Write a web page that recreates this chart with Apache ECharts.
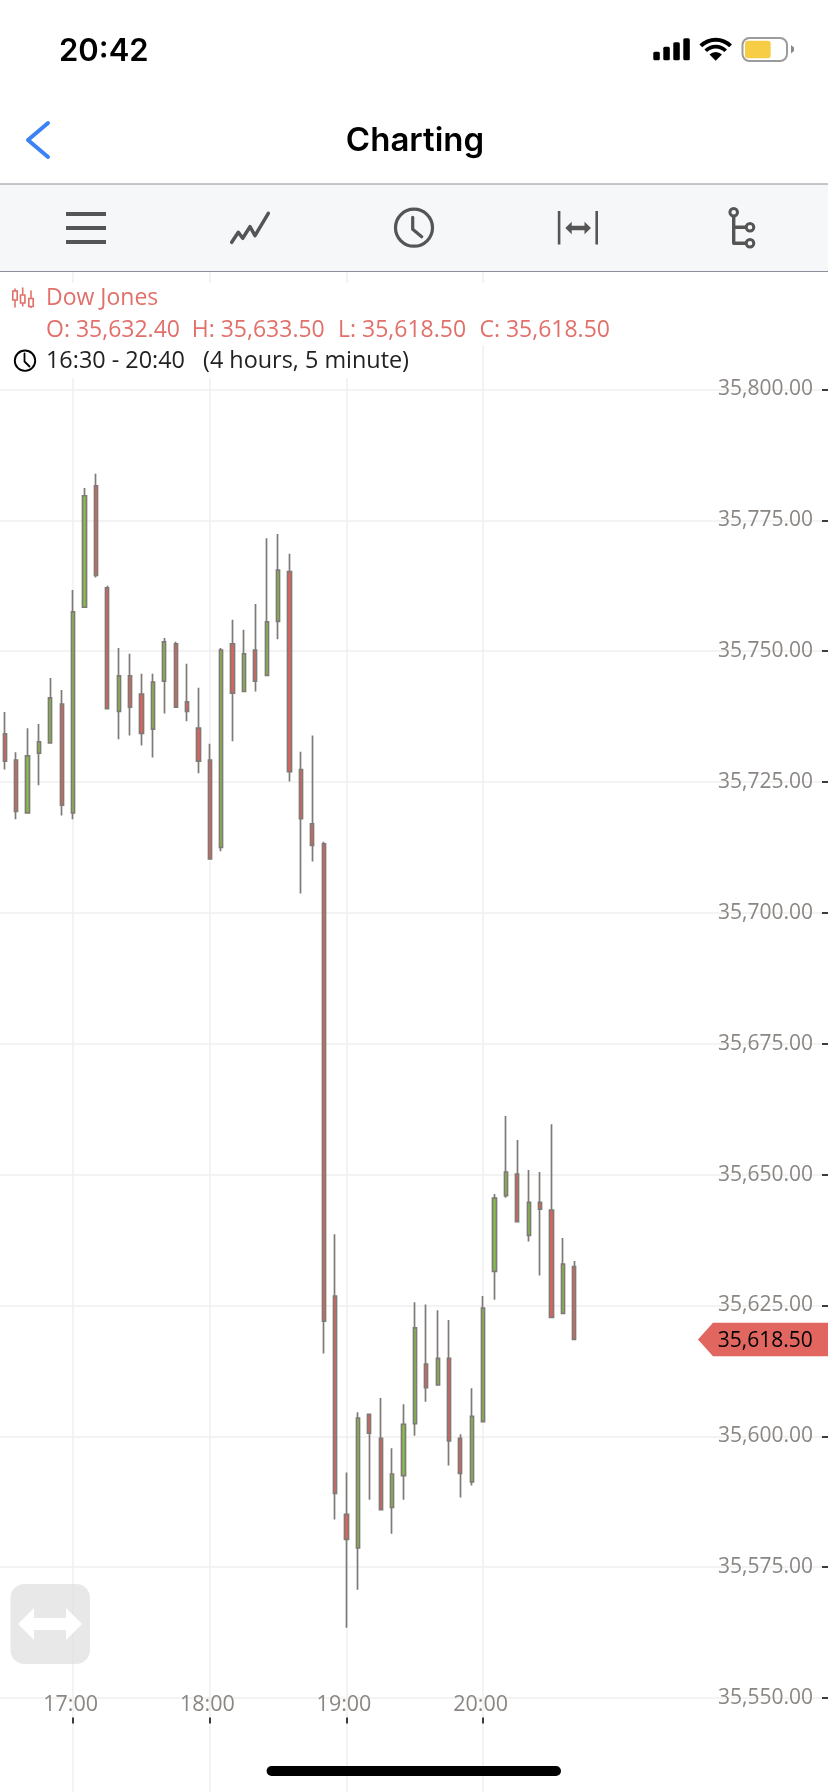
<!DOCTYPE html>
<html>
<head>
<meta charset="utf-8">
<style>html,body{margin:0;padding:0;background:#fff}#c{width:828px;height:1792px}</style>
<script src="https://cdn.jsdelivr.net/npm/echarts@6/dist/echarts.min.js"></script>
</head>
<body>
<div id="c"></div>
<script>
const times = ['16:30','16:35','16:40','16:45','16:50','16:55','17:00','17:05','17:10','17:15','17:20','17:25',
  '17:30','17:35','17:40','17:45','17:50','17:55','18:00','18:05','18:10','18:15','18:20','18:25',
  '18:30','18:35','18:40','18:45','18:50','18:55','19:00','19:05','19:10','19:15','19:20','19:25',
  '19:30','19:35','19:40','19:45','19:50','19:55','20:00','20:05','20:10','20:15','20:20','20:25',
  '20:30','20:35','20:40'];
const opens = [35734.2,35729.2,35719.1,35730.5,35732.5,35739.9,35719.1,35758.4,35781.6,35762.1,35738.5,35745.3,35741.8,35735.1,35744.3,35751.4,35740.3,35735.3,35729.2,35712.5,35751.4,35742.3,35750.2,35745.4,35755.7,35765.2,35727.4,35717,35713.2,
  35626.8,35585.1,35578.7,35604.2,35599.6,35586.4,35592.5,35602.4,35613.8,35609.8,35614.9,35599.6,35591.3,35602.8,35631.5,35646,35650.1,35638.4,35644.7,35643.2,35623.5,35632.4];
const closes = [35729,35719.4,35730,35732.7,35741.1,35720.6,35757.5,35779.7,35764.5,35739,35745.3,35739.3,35734.3,35744.1,35751.8,35739.3,35738.5,35729,35710.3,35750.2,35742,35749.5,35744.3,35755.6,35765.5,35727,35718,35712.9,35622,
  35589.1,35580.3,35603.5,35600.6,35586,35592.8,35602.3,35620.7,35609.3,35614.9,35599.1,35592.9,35603.8,35624.5,35645.5,35650.5,35641,35644.7,35643.4,35622.7,35632.9,35618.5];
const lows = [35727.4,35717.9,35719.1,35724.4,35732.5,35718.6,35717.9,35758.4,35764.1,35739,35733.2,35733.9,35732,35729.7,35738.1,35739.3,35736.6,35726.7,35710.3,35711.8,35732.8,35742.3,35742.3,35745.4,35752.3,35725.1,35703.7,35709.8,35615.8,
  35584.1,35563.4,35570.7,35587.9,35586,35581.4,35587.9,35600.1,35606.6,35609.8,35594.4,35588.3,35590.6,35602.8,35626.1,35645.6,35641,35637.2,35630.7,35622.7,35623.5,35618.5];
const highs = [35738.4,35730.7,35735.3,35736.1,35744.9,35742.6,35761.7,35781.2,35783.9,35762.5,35750.6,35749.5,35745.7,35745.7,35752.5,35751.8,35747.6,35743,35732.3,35750.6,35756,35754.1,35759,35771.6,35772.4,35768.6,35730.8,35733.9,35713.6,
  35638.6,35593.1,35604.6,35604.2,35607.3,35597.7,35606.1,35625.6,35625.2,35624.1,35622.2,35600.4,35609.2,35626.8,35646.3,35661.2,35656.6,35650.9,35650.5,35659.6,35637.9,35633.5];
const paddingSlots = 22;
const yTickMin = 35525, yTickMax = 35825, yTickStep = 25;
const lastPrice = '35,618.50';
const legendName = 'Dow Jones';
const legendOHLC = ['O: 35,632.40','H: 35,633.50','L: 35,618.50','C: 35,618.50'];
const legendTime = ['16:30 - 20:40','(4 hours, 5 minute)'];

const UP='#84c046', DOWN='#e2625b', WICK='#7f7a75', RED='#e2706a', GREY='#8a8683', ICON='#555555';
const FONT='"Open Sans"', UI='Inter';
const categories = times.concat(new Array(paddingSlots).fill(''));
const candles = times.map((t,i)=>[opens[i],closes[i],lows[i],highs[i]]);
const isHour = (i,v)=>typeof v==='string' && v.endsWith(':00');

const chart = echarts.init(document.getElementById('c'),null,{renderer:'canvas',width:828,height:1792});
chart.setOption({
  animation:false,
  backgroundColor:'#ffffff',
  grid:{left:-0.9,top:258.65,width:831.47,height:1570.2,containLabel:false,outerBoundsMode:'none'},
  xAxis:{
    type:'category',data:categories,position:'bottom',offset:-105.35,boundaryGap:true,
    axisLine:{show:false},
    axisTick:{show:true,inside:true,length:6,alignWithLabel:true,interval:isHour,lineStyle:{color:'#000',width:1.5}},
    axisLabel:{show:true,inside:true,margin:8,interval:isHour,color:GREY,fontFamily:FONT,fontSize:21.5,padding:[0,5,0,0],hideOverlap:false},
    splitLine:{show:true,alignWithLabel:true,interval:isHour,lineStyle:{color:'#efefef',width:1.5}}
  },
  yAxis:{
    type:'value',position:'right',offset:-2.57,min:yTickMin,max:yTickMax,interval:yTickStep,scale:true,
    axisLine:{show:false},
    axisTick:{show:true,inside:true,length:6,lineStyle:{color:'#000',width:1.5}},
    axisLabel:{show:true,inside:true,margin:15,showMinLabel:false,showMaxLabel:false,color:GREY,fontFamily:FONT,fontSize:21,
      formatter:v=>v.toLocaleString('en-US',{minimumFractionDigits:2,maximumFractionDigits:2})},
    splitLine:{show:true,lineStyle:{color:'#efefef',width:1.5}}
  },
  series:[{
    type:'candlestick',data:candles,barWidth:3.7,clip:false,
    itemStyle:{color:UP,color0:DOWN,borderColor:WICK,borderColor0:WICK,borderWidth:1.7}
  }]
});

function rect(x,y,w,h,fill,r,extra){return Object.assign({type:'rect',z:100,shape:{x,y,width:w,height:h,r:r||0},style:{fill}},extra||{});}
function text(t,x,y,fill,font,align){return {type:'text',z:102,x,y,style:{text:t,fill,font,textAlign:align||'left',textVerticalAlign:'middle'}};}
function poly(points,stroke,lw){return {type:'polyline',z:101,shape:{points},style:{stroke,fill:'none',lineWidth:lw,lineCap:'round',lineJoin:'round'}};}
function pgon(points,fill){return {type:'polygon',z:101,shape:{points},style:{fill}};}
function circ(cx,cy,r,stroke,lw,fill){return {type:'circle',z:101,shape:{cx,cy,r},style:{stroke,lineWidth:lw,fill:fill||'none'}};}
function sect(r0,r){return {type:'sector',z:101,shape:{cx:715.7,cy:60.7,r0,r,startAngle:-Math.PI*0.75,endAngle:-Math.PI*0.25,clockwise:true},style:{fill:'#000'}};}

const priceY = chart.convertToPixel({yAxisIndex:0},closes[closes.length-1]);
const lab21 = '21px '+FONT, lab23 = '23px '+FONT;
const els = [
  // top chrome
  rect(0,0,828,184,'#ffffff'),
  rect(0,184,828,87,'#f6f7f9'),
  rect(0,183.5,828,1,'#8b8f9a'),
  rect(0,271,828,1,'#8b8f9a'),
  text('20:42',59,51.5,'#000','600 31px '+UI),
  text('Charting',415,141,'#000','600 33px '+UI,'center'),
  poly([[48,123],[28,140],[48,157]],'#3b82f6',4),
  // signal
  rect(653.3,51.7,6.5,8.6,'#000',1.5),rect(663.3,46.7,6.5,13.6,'#000',1.5),rect(673.3,42.3,6.5,18,'#000',1.5),rect(683.3,38.3,6.5,22,'#000',1.5),
  sect(19,23),sect(12.2,16),sect(0,8.8),
  // battery
  rect(742.5,38,44.5,23,'#ffffff',7,{style:{fill:'#fff',stroke:'#9b9b9b',lineWidth:2}}),
  rect(745,40.7,25.7,17.6,'#f6cd45',3),
  pgon([[791,45],[794,47.5],[794,51],[791,53.5]],'#8a8a8a'),
  // toolbar icons
  rect(66,212,40,4,ICON),rect(66,226,40,4,ICON),rect(66,240,40,4,ICON),
  poly([[231.7,242.3],[238.3,232.3],[242.7,238.3],[250,226.7],[255,235.7],[268.3,213.3]],ICON,3.5),
  circ(414,227.7,18.5,ICON,3.2),
  poly([[412.7,217.3],[412.7,229.3],[421.7,236.7]],ICON,3.2),
  rect(557.8,211,2.6,33.5,ICON),rect(595.4,211,2.6,33.5,ICON),
  pgon([[565.3,228],[571.7,221.7],[571.7,225.7],[584.5,225.7],[584.5,221.7],[591,228],[584.5,234.3],[584.5,230.3],[571.7,230.3],[571.7,234.3]],ICON),
  poly([[733.7,212.3],[733.7,243.3],[750,243.3]],ICON,3.4),
  poly([[733.7,227.3],[750,227.3]],ICON,3.4),
  circ(733.7,212.3,3.8,ICON,3,'#f6f7f9'),circ(750,227.3,3.8,ICON,3,'#f6f7f9'),circ(750,243.3,3.8,ICON,3,'#f6f7f9'),
  // legend backing
  rect(0,283,615,62,'#ffffff'),
  rect(0,345,415,33,'#ffffff'),
  // legend candle icon
  poly([[15,289],[15,307]],RED,1.6),rect(12.8,291,4.4,9,'#fff',0,{z:101,style:{fill:'#fff',stroke:RED,lineWidth:1.6}}),
  poly([[22.7,288],[22.7,306]],RED,1.6),rect(20.5,295,4.4,8,'#fff',0,{z:101,style:{fill:'#fff',stroke:RED,lineWidth:1.6}}),
  poly([[31,291],[31,307.5]],RED,1.6),rect(28.8,298.5,4.4,8,'#fff',0,{z:101,style:{fill:'#fff',stroke:RED,lineWidth:1.6}}),
  text(legendName,46,298,RED,lab23),
  text(legendOHLC[0],46,330,RED,lab23),
  text(legendOHLC[1],191.7,330,RED,lab23),
  text(legendOHLC[2],338,330,RED,lab23),
  text(legendOHLC[3],479.4,330,RED,lab23),
  circ(25,360.7,10.2,'#000',1.9),
  poly([[24.5,353.5],[24.5,361.5],[29.5,366.5]],'#000',1.8),
  text(legendTime[0],46,361.5,'#222','23.4px '+FONT),
  text(legendTime[1],203,361.5,'#222','23.4px '+FONT),
  // pan button
  rect(10.5,1584,79.5,80,'rgba(222,222,222,0.7)',14),
  pgon([[18,1624],[34,1608],[34,1618],[66,1618],[66,1608],[82,1624],[66,1640],[66,1630],[34,1630],[34,1640]],'#ffffff'),
  // last price tag
  pgon([[698,priceY],[713,priceY-16.8],[828,priceY-16.8],[828,priceY+16.8],[713,priceY+16.8]],'#e0665f'),
  text(lastPrice,812.7,priceY+1.5,'#000',lab21,'right'),
  // home indicator
  rect(266.6,1766,294.4,10,'#000',5)
];
chart.setOption({graphic:{elements:els}});
</script>
</body>
</html>
